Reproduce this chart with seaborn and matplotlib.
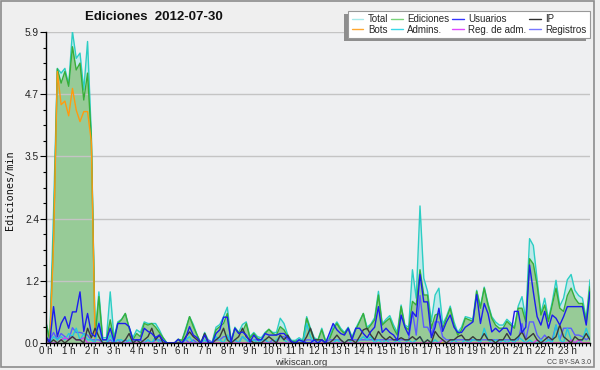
import numpy as np
import pandas as pd
import matplotlib
matplotlib.use("Agg")
import matplotlib.pyplot as plt
from matplotlib.lines import Line2D
from matplotlib.patches import Rectangle
from matplotlib.ticker import MultipleLocator, FixedLocator, AutoMinorLocator
import seaborn as sns

# ---------------- data (edits per minute, 10-minute steps, 0h .. 24h) ----------------
step_min = 10

total = [
    0.4, 0.1, 2.5, 5.21, 5.12, 5.21, 4.9, 5.91, 5.4, 5.5, 4.8, 5.72,
    3.95, 0.15, 0.97, 0.1, 0.1, 0.97, 0.1, 0.4, 0.45, 0.56, 0.3, 0.1,
    0.25, 0.2, 0.4, 0.37, 0.37, 0.37, 0.25, 0.1, 0.0, 0.0, 0.0, 0.07,
    0.05, 0.28, 0.5, 0.35, 0.15, 0.0, 0.2, 0.05, 0.02, 0.3, 0.35, 0.5,
    0.68, 0.05, 0.3, 0.2, 0.35, 0.4, 0.12, 0.2, 0.12, 0.1, 0.2, 0.26,
    0.2, 0.2, 0.47, 0.37, 0.15, 0.05, 0.05, 0.1, 0.05, 0.5, 0.28, 0.1,
    0.06, 0.28, 0.05, 0.1, 0.3, 0.4, 0.28, 0.2, 0.3, 0.12, 0.28, 0.42,
    0.56, 0.3, 0.36, 0.48, 0.98, 0.36, 0.45, 0.52, 0.34, 0.2, 0.72, 0.34,
    0.3, 1.39, 0.85, 2.6, 1.23, 0.98, 0.41, 0.91, 1.04, 0.36, 0.5, 0.7,
    0.4, 0.2, 0.3, 0.5, 0.48, 0.45, 1.0, 0.7, 1.06, 0.75, 0.5, 0.4,
    0.34, 0.34, 0.45, 0.38, 0.3, 0.7, 0.88, 0.45, 1.98, 1.85, 1.2, 0.56,
    0.85, 0.45, 0.78, 1.19, 0.7, 0.85, 1.2, 1.3, 1.0, 0.9, 0.85, 0.45,
    1.2,
]

ediciones = [
    0.37, 0.05, 2.0, 5.2, 4.93, 5.15, 4.87, 5.62, 5.18, 5.31, 4.61, 5.12,
    3.89, 0.1, 0.88, 0.06, 0.06, 0.44, 0.06, 0.37, 0.44, 0.56, 0.28, 0.06,
    0.18, 0.12, 0.37, 0.34, 0.37, 0.3, 0.2, 0.1, 0.0, 0.0, 0.0, 0.07,
    0.05, 0.25, 0.5, 0.31, 0.15, 0.0, 0.18, 0.02, 0.0, 0.25, 0.31, 0.37,
    0.56, 0.02, 0.28, 0.2, 0.21, 0.37, 0.09, 0.18, 0.09, 0.06, 0.18, 0.26,
    0.18, 0.15, 0.31, 0.25, 0.12, 0.03, 0.03, 0.06, 0.03, 0.47, 0.25, 0.06,
    0.06, 0.25, 0.03, 0.06, 0.25, 0.37, 0.25, 0.18, 0.28, 0.09, 0.25, 0.4,
    0.56, 0.25, 0.34, 0.44, 0.91, 0.34, 0.41, 0.47, 0.28, 0.15, 0.69, 0.31,
    0.25, 0.79, 0.72, 1.39, 0.91, 0.91, 0.28, 0.53, 0.56, 0.28, 0.47, 0.66,
    0.34, 0.15, 0.25, 0.47, 0.44, 0.41, 0.98, 0.66, 1.04, 0.72, 0.47, 0.34,
    0.28, 0.28, 0.41, 0.34, 0.28, 0.66, 0.66, 0.4, 1.6, 1.5, 1.1, 0.53,
    0.72, 0.41, 0.72, 1.04, 0.66, 0.6, 0.9, 1.04, 0.85, 0.75, 0.75, 0.41,
    1.07,
]

usuarios = [
    0.12, 0.02, 0.69, 0.12, 0.37, 0.5, 0.28, 0.59, 0.59, 0.97, 0.22, 0.56,
    0.18, 0.12, 0.37, 0.06, 0.06, 0.28, 0.03, 0.37, 0.37, 0.37, 0.31, 0.06,
    0.06, 0.06, 0.28, 0.22, 0.18, 0.1, 0.15, 0.05, 0.0, 0.0, 0.0, 0.07,
    0.0, 0.1, 0.31, 0.15, 0.1, 0.0, 0.15, 0.0, 0.0, 0.18, 0.25, 0.49,
    0.49, 0.02, 0.28, 0.18, 0.21, 0.15, 0.02, 0.15, 0.06, 0.06, 0.18, 0.15,
    0.15, 0.15, 0.18, 0.18, 0.1, 0.03, 0.0, 0.06, 0.03, 0.0, 0.0, 0.06,
    0.0, 0.06, 0.0, 0.18, 0.37, 0.25, 0.18, 0.15, 0.28, 0.06, 0.28, 0.28,
    0.18, 0.1, 0.22, 0.3, 0.69, 0.2, 0.28, 0.2, 0.15, 0.05, 0.53, 0.3,
    0.15, 0.59, 0.5, 1.3, 0.78, 0.78, 0.1, 0.3, 0.66, 0.22, 0.4, 0.53,
    0.3, 0.2, 0.2, 0.3, 0.35, 0.4, 0.92, 0.37, 0.75, 0.56, 0.21, 0.28,
    0.21, 0.28, 0.28, 0.15, 0.6, 0.6, 0.2, 0.3, 1.48, 0.97, 0.5, 0.34,
    0.6, 0.28, 0.53, 0.47, 0.34, 0.5, 0.69, 0.69, 0.69, 0.69, 0.69, 0.34,
    0.97,
]

ip = [
    0.1, 0.0, 0.06, 0.0, 0.06, 0.0, 0.06, 0.12, 0.06, 0.06, 0.0, 0.28,
    0.1, 0.28, 0.12, 0.0, 0.0, 0.0, 0.0, 0.0, 0.0, 0.06, 0.18, 0.0,
    0.06, 0.0, 0.06, 0.12, 0.28, 0.06, 0.15, 0.0, 0.0, 0.0, 0.0, 0.0,
    0.0, 0.12, 0.21, 0.12, 0.06, 0.0, 0.18, 0.0, 0.0, 0.06, 0.12, 0.28,
    0.06, 0.0, 0.06, 0.12, 0.28, 0.12, 0.06, 0.0, 0.0, 0.0, 0.06, 0.12,
    0.06, 0.0, 0.15, 0.06, 0.15, 0.0, 0.0, 0.0, 0.0, 0.12, 0.28, 0.06,
    0.06, 0.06, 0.0, 0.0, 0.06, 0.15, 0.06, 0.0, 0.06, 0.06, 0.0, 0.12,
    0.25, 0.28, 0.15, 0.06, 0.22, 0.12, 0.06, 0.12, 0.06, 0.06, 0.1, 0.06,
    0.06, 0.12, 0.06, 0.12, 0.0, 0.06, 0.0, 0.22, 0.12, 0.06, 0.0, 0.06,
    0.06, 0.12, 0.15, 0.06, 0.06, 0.12, 0.06, 0.06, 0.18, 0.06, 0.06, 0.0,
    0.06, 0.06, 0.18, 0.06, 0.06, 0.12, 0.21, 0.06, 0.12, 0.18, 0.06, 0.0,
    0.06, 0.12, 0.06, 0.12, 0.34, 0.12, 0.06, 0.0, 0.12, 0.06, 0.06, 0.18,
    0.06,
]

bots = [
    0.0, 0.0, 1.9, 5.15, 4.52, 4.59, 4.31, 4.83, 4.42, 4.2, 4.39, 4.39,
    3.82, 0.0, 0.0, 0.0, 0.0, 0.0, 0.0, 0.0, 0.0, 0.0, 0.0, 0.0,
    0.0, 0.0, 0.0, 0.0, 0.0, 0.0, 0.0, 0.0, 0.0, 0.0, 0.0, 0.0,
    0.0, 0.0, 0.0, 0.0, 0.0, 0.0, 0.0, 0.0, 0.0, 0.0, 0.0, 0.0,
    0.0, 0.0, 0.0, 0.0, 0.0, 0.0, 0.0, 0.0, 0.0, 0.0, 0.0, 0.0,
    0.0, 0.0, 0.0, 0.0, 0.0, 0.0, 0.0, 0.0, 0.0, 0.0, 0.0, 0.0,
    0.0, 0.0, 0.0, 0.0, 0.0, 0.0, 0.0, 0.0, 0.0, 0.0, 0.0, 0.0,
    0.0, 0.0, 0.0, 0.0, 0.0, 0.0, 0.0, 0.0, 0.0, 0.0, 0.0, 0.0,
    0.0, 0.0, 0.0, 0.0, 0.0, 0.0, 0.0, 0.0, 0.0, 0.0, 0.0, 0.0,
    0.0, 0.0, 0.0, 0.0, 0.0, 0.0, 0.0, 0.0, 0.0, 0.0, 0.0, 0.0,
    0.0, 0.0, 0.0, 0.0, 0.0, 0.0, 0.0, 0.0, 0.0, 0.0, 0.0, 0.0,
    0.0, 0.0, 0.0, 0.0, 0.0, 0.0, 0.0, 0.0, 0.0, 0.0, 0.0, 0.0,
    0.0,
]

admins = [
    0.0, 0.0, 0.12, 0.06, 0.12, 0.06, 0.18, 0.12, 0.28, 0.06, 0.18, 0.06,
    0.06, 0.0, 0.4, 0.0, 0.0, 0.15, 0.0, 0.06, 0.06, 0.0, 0.06, 0.0,
    0.06, 0.0, 0.0, 0.06, 0.0, 0.12, 0.0, 0.06, 0.0, 0.0, 0.0, 0.0,
    0.0, 0.06, 0.12, 0.0, 0.0, 0.0, 0.06, 0.0, 0.0, 0.12, 0.06, 0.0,
    0.15, 0.0, 0.06, 0.0, 0.12, 0.06, 0.0, 0.06, 0.0, 0.06, 0.06, 0.0,
    0.0, 0.06, 0.12, 0.06, 0.0, 0.0, 0.0, 0.06, 0.0, 0.37, 0.12, 0.0,
    0.0, 0.06, 0.0, 0.0, 0.0, 0.06, 0.0, 0.0, 0.06, 0.0, 0.0, 0.06,
    0.12, 0.06, 0.12, 0.0, 0.06, 0.0, 0.06, 0.0, 0.0, 0.06, 0.0, 0.0,
    0.06, 0.0, 0.06, 0.12, 0.0, 0.06, 0.0, 0.06, 0.0, 0.06, 0.0, 0.0,
    0.06, 0.0, 0.0, 0.06, 0.0, 0.06, 0.06, 0.0, 0.28, 0.06, 0.0, 0.06,
    0.0, 0.06, 0.0, 0.06, 0.0, 0.12, 0.06, 0.0, 0.06, 0.0, 0.0, 0.06,
    0.0, 0.06, 0.0, 0.34, 0.06, 0.0, 0.28, 0.06, 0.0, 0.0, 0.06, 0.28,
    0.06,
]

reg_adm = [
    0.0, 0.0, 0.0, 0.0, 0.06, 0.1, 0.06, 0.12, 0.06, 0.06, 0.1, 0.0,
    0.0, 0.0, 0.0, 0.0, 0.0, 0.0, 0.0, 0.0, 0.0, 0.0, 0.0, 0.0,
    0.0, 0.0, 0.0, 0.0, 0.0, 0.0, 0.0, 0.0, 0.0, 0.0, 0.0, 0.0,
    0.0, 0.0, 0.0, 0.0, 0.0, 0.0, 0.0, 0.0, 0.0, 0.0, 0.0, 0.0,
    0.0, 0.0, 0.0, 0.0, 0.0, 0.0, 0.0, 0.0, 0.0, 0.0, 0.0, 0.0,
    0.0, 0.0, 0.0, 0.0, 0.0, 0.0, 0.0, 0.0, 0.0, 0.0, 0.0, 0.0,
    0.0, 0.0, 0.0, 0.0, 0.0, 0.0, 0.0, 0.0, 0.0, 0.0, 0.0, 0.0,
    0.0, 0.0, 0.0, 0.0, 0.0, 0.0, 0.0, 0.0, 0.0, 0.0, 0.0, 0.0,
    0.0, 0.0, 0.0, 0.0, 0.0, 0.0, 0.0, 0.0, 0.0, 0.06, 0.0, 0.0,
    0.0, 0.0, 0.0, 0.0, 0.0, 0.0, 0.0, 0.0, 0.0, 0.0, 0.0, 0.0,
    0.0, 0.0, 0.0, 0.0, 0.0, 0.0, 0.0, 0.0, 0.0, 0.0, 0.06, 0.0,
    0.0, 0.0, 0.0, 0.0, 0.0, 0.0, 0.0, 0.06, 0.0, 0.06, 0.0, 0.0,
    0.0,
]

registros = [
    0.0, 0.06, 0.2, 0.06, 0.18, 0.12, 0.06, 0.29, 0.2, 0.2, 0.18, 0.15,
    0.06, 0.06, 0.06, 0.0, 0.0, 0.06, 0.0, 0.06, 0.0, 0.06, 0.0, 0.0,
    0.06, 0.06, 0.0, 0.06, 0.0, 0.06, 0.06, 0.0, 0.0, 0.0, 0.0, 0.0,
    0.0, 0.06, 0.0, 0.06, 0.0, 0.0, 0.0, 0.06, 0.0, 0.06, 0.06, 0.12,
    0.12, 0.0, 0.06, 0.0, 0.12, 0.06, 0.0, 0.06, 0.06, 0.0, 0.06, 0.0,
    0.06, 0.0, 0.12, 0.12, 0.06, 0.0, 0.0, 0.06, 0.0, 0.06, 0.06, 0.0,
    0.0, 0.06, 0.0, 0.06, 0.06, 0.06, 0.06, 0.0, 0.06, 0.06, 0.06, 0.06,
    0.06, 0.06, 0.06, 0.06, 0.06, 0.06, 0.06, 0.06, 0.06, 0.06, 0.06, 0.06,
    0.06, 0.6, 0.15, 0.9, 0.3, 0.3, 0.15, 0.4, 0.4, 0.12, 0.06, 0.06,
    0.06, 0.06, 0.06, 0.06, 0.06, 0.06, 0.06, 0.06, 0.06, 0.06, 0.06, 0.06,
    0.06, 0.06, 0.06, 0.06, 0.06, 0.06, 0.37, 0.06, 0.4, 0.4, 0.15, 0.06,
    0.15, 0.06, 0.06, 0.34, 0.06, 0.28, 0.28, 0.28, 0.15, 0.15, 0.12, 0.06,
    0.12,
]

series_names = ["Total", "Ediciones", "Usuarios", "IP",
                "Bots", "Admins.", "Reg. de adm.", "Registros"]
y_tick_values = [0.0, 1.18, 2.36, 3.54, 4.72, 5.9]
y_tick_labels = ["0.0", "1.2", "2.4", "3.5", "4.7", "5.9"]
x_hours = list(range(24))
x_tick_labels = [f"{h} h" for h in x_hours]
title_text = "Ediciones  2012-07-30"
y_label = "Ediciones/min"

# ---------------- build frame ----------------
n = len(total)
hora = np.arange(n) * step_min / 60.0
df = pd.DataFrame({
    "hora": hora,
    "Total": total, "Ediciones": ediciones, "Usuarios": usuarios, "IP": ip,
    "Bots": bots, "Admins.": admins, "Reg. de adm.": reg_adm, "Registros": registros,
})
long = df.melt(id_vars="hora", var_name="serie", value_name="valor")

line_colors = {
    "Total": "#2ccec4", "Ediciones": "#38ae38", "Usuarios": "#1c1cee",
    "IP": "#3a3a3a", "Bots": "#ff9a10", "Admins.": "#22c8e0",
    "Reg. de adm.": "#d040f0", "Registros": "#5c5cff",
}
legend_colors = {
    "Total": "#a6eaea", "Ediciones": "#7ad47a", "Usuarios": "#3434ff",
    "IP": "#303030", "Bots": "#ffa830", "Admins.": "#38d8e8",
    "Reg. de adm.": "#e048ff", "Registros": "#7878ff",
}
draw_order = ["Total", "Ediciones", "Bots", "Registros", "Admins.",
              "Reg. de adm.", "IP", "Usuarios"]

# ---------------- figure ----------------
sns.set_theme(style="white")
plt.rcParams["font.family"] = ["DejaVu Sans"]
tick_font = ["Liberation Sans Narrow", "Liberation Sans"]

W, H = 600, 370
fig = plt.figure(figsize=(W / 100, H / 100), dpi=100, facecolor="#efefef")
ax = fig.add_axes([46 / W, 1 - 343 / H, (590 - 46) / W, (343 - 32) / H])
ax.set_facecolor("#eeeff1")

ax.fill_between(df["hora"], df["Total"], color="#bfe9ea", lw=0, zorder=1)
ax.fill_between(df["hora"], df["Ediciones"], color="#97cb97", lw=0, zorder=1)

sns.lineplot(data=long, x="hora", y="valor", hue="serie", hue_order=draw_order,
             palette=line_colors, linewidth=1.0, legend=False, ax=ax,
             estimator=None, sort=False)

ax.set_xlim(0, 24)
ax.set_ylim(0, 5.9)
ax.set_xlabel("")
ax.set_ylabel("")

ax.yaxis.set_major_locator(FixedLocator(y_tick_values))
ax.set_yticklabels(y_tick_labels)
ax.yaxis.set_minor_locator(AutoMinorLocator(4))
ax.xaxis.set_major_locator(FixedLocator(x_hours))
ax.set_xticklabels(x_tick_labels)
ax.xaxis.set_minor_locator(MultipleLocator(step_min / 60.0))

ax.set_axisbelow("line")
ax.yaxis.grid(True, which="major", color="#c4c4c4", lw=1.0)
ax.xaxis.grid(False)

for s in ["top", "right"]:
    ax.spines[s].set_visible(False)
for s in ["left", "bottom"]:
    ax.spines[s].set_color("black")
    ax.spines[s].set_linewidth(1.0)

ax.tick_params(axis="y", which="major", direction="out", length=4.5, width=0.8,
               colors="black", pad=0.5, left=True)
ax.tick_params(axis="y", which="minor", direction="out", length=2.5, width=0.8,
               colors="black", left=True)
ax.tick_params(axis="x", which="both", direction="out", length=2.2, width=0.8,
               colors="black", pad=0.3, bottom=True)
for lbl in ax.get_yticklabels():
    lbl.set_color("#222222")
    lbl.set_family(tick_font)
    lbl.set_fontsize(7.3)
for lbl in ax.get_xticklabels():
    lbl.set_color("#222222")
    lbl.set_family(tick_font)
    lbl.set_fontsize(7.0)

# ---------------- texts ----------------
fig.text(154 / W, 1 - 16.5 / H, title_text, ha="center", va="center",
         fontsize=9.5, fontweight="bold", family=["Liberation Sans"], color="#111111")
fig.text(10 / W, 1 - 190 / H, y_label, rotation=90, ha="center", va="center",
         fontsize=7.3, family=["DejaVu Sans Mono"], color="#111111")
fig.text(301 / W, 1 - 362.5 / H, "wikiscan.org", ha="center", va="center",
         fontsize=6.8, family=["Liberation Sans"], color="#333333")
fig.text(569 / W, 1 - 362.5 / H, "CC BY-SA 3.0", ha="center", va="center",
         fontsize=5, family=tick_font, color="#444444")

# ---------------- legend ----------------
handles = [Line2D([0], [0], color=legend_colors[nm], lw=1.0) for nm in series_names]
order = [0, 4, 1, 5, 2, 6, 3, 7]
leg = fig.legend([handles[i] for i in order], [series_names[i] for i in order],
                 ncol=4, loc="upper right", bbox_to_anchor=(590 / W, 1 - 11 / H),
                 prop={"family": "Liberation Sans", "size": 7.0},
                 handlelength=1.2, handletextpad=0.45,
                 columnspacing=0.3, labelspacing=0.05, borderpad=0.35,
                 borderaxespad=0, frameon=True, fancybox=False, framealpha=1)
leg.get_frame().set_facecolor("white")
leg.get_frame().set_edgecolor("#999999")
leg.get_frame().set_linewidth(0.8)
leg.set_zorder(5)

# shadow placed from the legend's drawn extent (4 px left, 3 px down)
fig.canvas.draw()
bb = leg.get_window_extent()
fig.patches.append(Rectangle(((bb.x0 - 4) / W, (bb.y0 - 3) / H),
                             bb.width / W, bb.height / H,
                             transform=fig.transFigure, facecolor="#8e8e8e",
                             edgecolor="none", zorder=4))

# ---------------- outer frame ----------------
fig.patches.append(Rectangle((0.5 / W, 1 - 367 / H), 593 / W, 366.5 / H,
                             transform=fig.transFigure, facecolor="none",
                             edgecolor="#8c8c8c", lw=1.2, zorder=10))

fig.savefig("out.png", dpi=100, facecolor=fig.get_facecolor())
